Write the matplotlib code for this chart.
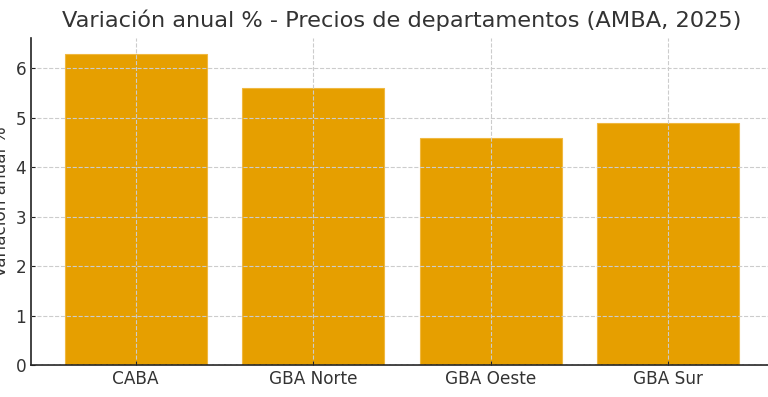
import numpy as np
import matplotlib.pyplot as plt

# data
zonas = ['CABA', 'GBA Norte', 'GBA Oeste', 'GBA Sur']
variacion = [6.3, 5.6, 4.6, 4.9]

if __name__ == "__main__":
    plt.rcParams['text.color'] = '#333333'
    plt.rcParams['axes.labelcolor'] = '#333333'
    plt.rcParams['xtick.color'] = '#333333'
    plt.rcParams['ytick.color'] = '#333333'

    fig = plt.figure(figsize=(7.68, 3.97), dpi=100)
    ax = fig.add_axes([31/768, 32/397, 742/768, 327/397])

    x = np.arange(len(zonas))
    ax.bar(x, variacion, width=0.8, color='#E69F00', edgecolor='#F0B840', linewidth=0.8)

    ax.set_xticks(x)
    ax.set_xticklabels(zonas)
    ax.set_xlim(-0.59, 3.59)
    ax.set_ylim(0, 6.615)
    ax.set_yticks(range(0, 7))

    ax.tick_params(labelsize=12.2, direction='in', length=3, color='#222222')
    ax.set_ylabel('Variación anual %', fontsize=12.2, labelpad=4)
    ax.set_title('Variación anual % - Precios de departamentos (AMBA, 2025)', fontsize=16.2, pad=8)

    ax.grid(True, linestyle='--', color='#cccccc', linewidth=0.8)
    ax.set_axisbelow(False)
    for s in ['top', 'right']:
        ax.spines[s].set_visible(False)
    for s in ['left', 'bottom']:
        ax.spines[s].set_color('#222222')
        ax.spines[s].set_linewidth(1.2)

    fig.savefig('out.png', dpi=100)
